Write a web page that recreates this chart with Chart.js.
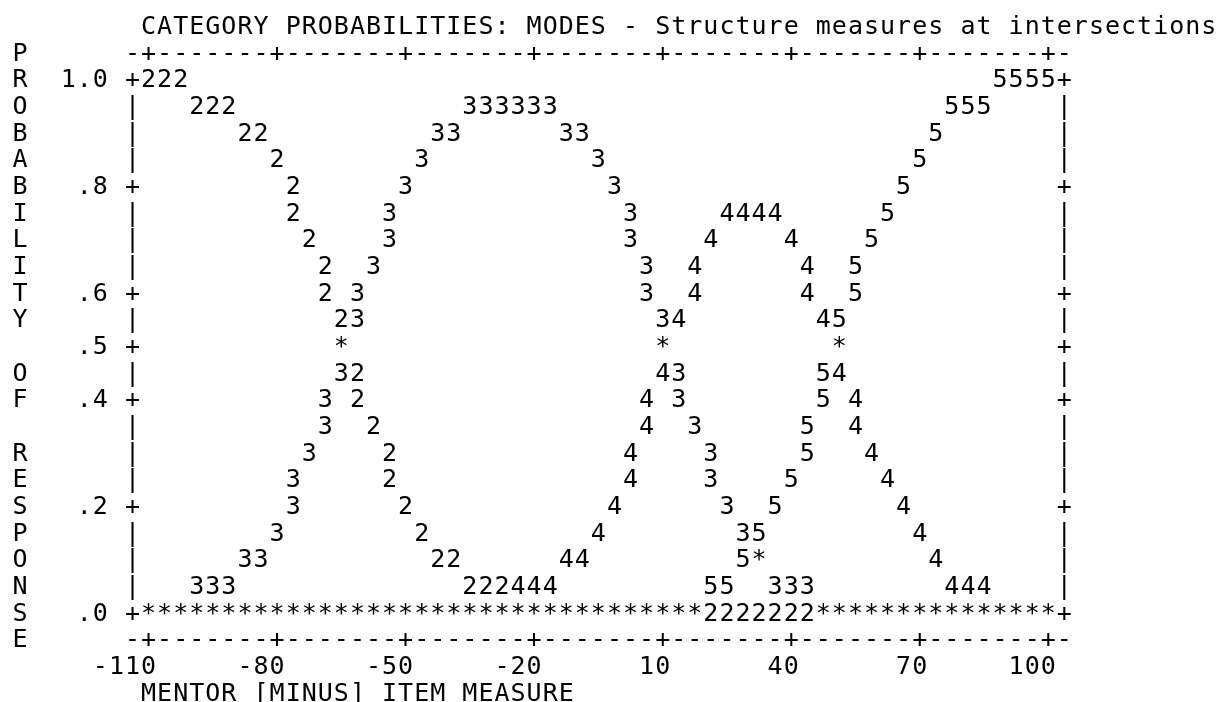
<!DOCTYPE html>
<html>
<head>
<meta charset="utf-8">
<title>Category probabilities: modes</title>
<script src="https://cdn.jsdelivr.net/npm/chart.js@4.4.1/dist/chart.umd.min.js"></script>
<style>
  html, body { margin: 0; padding: 0; background: #fff; }
  canvas { display: block; }
</style>
</head>
<body>
<canvas id="plot" width="1218" height="702"></canvas>
<script>
// ---- text ----
const chartTitle = 'CATEGORY PROBABILITIES: MODES - Structure measures at intersections';
const xAxisTitle = 'MENTOR [MINUS] ITEM MEASURE';
const yAxisTitle = 'PROBABILITY OF RESPONSE';

// ---- axes ----
const measureTicks = [-110, -80, -50, -20, 10, 40, 70, 100];
const probTicks = [1.0, 0.8, 0.6, 0.5, 0.4, 0.2, 0.0];
const probTickLabels = ['1.0', '.8', '.6', '.5', '.4', '.2', '.0'];

// ---- plotted cells per response category: [measure, probability] ----
const category2 = [
  [-110, 1.00], [-106.25, 1.00], [-102.5, 1.00],
  [-98.75, 0.95], [-95, 0.95], [-91.25, 0.95],
  [-87.5, 0.90], [-83.75, 0.90],
  [-80, 0.85], [-76.25, 0.80], [-76.25, 0.75], [-72.5, 0.70],
  [-68.75, 0.65], [-68.75, 0.60], [-65, 0.55],
  [-61.25, 0.45], [-61.25, 0.40], [-57.5, 0.35], [-53.75, 0.30],
  [-53.75, 0.25], [-50, 0.20], [-46.25, 0.15],
  [-42.5, 0.10], [-38.75, 0.10],
  [-35, 0.05], [-31.25, 0.05], [-27.5, 0.05],
  [21.25, 0.00], [25, 0.00], [28.75, 0.00], [32.5, 0.00],
  [36.25, 0.00], [40, 0.00], [43.75, 0.00]
];

const category3 = [
  [-35, 0.95], [-31.25, 0.95], [-27.5, 0.95], [-23.75, 0.95], [-20, 0.95], [-16.25, 0.95],
  [-42.5, 0.90], [-38.75, 0.90], [-12.5, 0.90], [-8.75, 0.90],
  [-46.25, 0.85], [-5, 0.85],
  [-50, 0.80], [-1.25, 0.80],
  [-53.75, 0.75], [2.5, 0.75],
  [-53.75, 0.70], [2.5, 0.70],
  [-57.5, 0.65], [6.25, 0.65],
  [-61.25, 0.60], [6.25, 0.60],
  [-61.25, 0.55], [10, 0.55],
  [-65, 0.45], [13.75, 0.45],
  [-68.75, 0.40], [13.75, 0.40],
  [-68.75, 0.35], [17.5, 0.35],
  [-72.5, 0.30], [21.25, 0.30],
  [-76.25, 0.25], [21.25, 0.25],
  [-76.25, 0.20], [25, 0.20],
  [-80, 0.15], [28.75, 0.15],
  [-87.5, 0.10], [-83.75, 0.10],
  [-98.75, 0.05], [-95, 0.05], [-91.25, 0.05],
  [36.25, 0.05], [40, 0.05], [43.75, 0.05]
];

const category4 = [
  [25, 0.75], [28.75, 0.75], [32.5, 0.75], [36.25, 0.75],
  [21.25, 0.70], [40, 0.70],
  [17.5, 0.65], [43.75, 0.65],
  [17.5, 0.60], [43.75, 0.60],
  [13.75, 0.55], [47.5, 0.55],
  [10, 0.45], [51.25, 0.45],
  [6.25, 0.40], [55, 0.40],
  [6.25, 0.35], [55, 0.35],
  [2.5, 0.30], [58.75, 0.30],
  [2.5, 0.25], [62.5, 0.25],
  [-1.25, 0.20], [66.25, 0.20],
  [-5, 0.15], [70, 0.15],
  [-12.5, 0.10], [-8.75, 0.10], [73.75, 0.10],
  [-23.75, 0.05], [-20, 0.05], [-16.25, 0.05],
  [77.5, 0.05], [81.25, 0.05], [85, 0.05]
];

const category5 = [
  [88.75, 1.00], [92.5, 1.00], [96.25, 1.00], [100, 1.00],
  [77.5, 0.95], [81.25, 0.95], [85, 0.95],
  [73.75, 0.90], [70, 0.85], [66.25, 0.80], [62.5, 0.75],
  [58.75, 0.70], [55, 0.65], [55, 0.60], [51.25, 0.55],
  [47.5, 0.45], [47.5, 0.40], [43.75, 0.35], [43.75, 0.30],
  [40, 0.25], [36.25, 0.20], [32.5, 0.15], [28.75, 0.10],
  [21.25, 0.05], [25, 0.05]
];

// cells shared by two or more curves
const coincident = [
  [-65, 0.50], [10, 0.50], [51.25, 0.50],
  [32.5, 0.10],
  [-110, 0], [-106.25, 0], [-102.5, 0], [-98.75, 0], [-95, 0], [-91.25, 0],
  [-87.5, 0], [-83.75, 0], [-80, 0], [-76.25, 0], [-72.5, 0], [-68.75, 0],
  [-65, 0], [-61.25, 0], [-57.5, 0], [-53.75, 0], [-50, 0], [-46.25, 0],
  [-42.5, 0], [-38.75, 0], [-35, 0], [-31.25, 0], [-27.5, 0], [-23.75, 0],
  [-20, 0], [-16.25, 0], [-12.5, 0], [-8.75, 0], [-5, 0], [-1.25, 0],
  [2.5, 0], [6.25, 0], [10, 0], [13.75, 0], [17.5, 0],
  [47.5, 0], [51.25, 0], [55, 0], [58.75, 0], [62.5, 0], [66.25, 0],
  [70, 0], [73.75, 0], [77.5, 0], [81.25, 0], [85, 0], [88.75, 0],
  [92.5, 0], [96.25, 0], [100, 0]
];

// character grid: one column per 3.75 measure units, one row per .05 probability
const colStep = 3.75;
const rowStep = 0.05;

const toPoints = list => list.map(([m, p]) => ({ x: m, y: p }));

const series = [
  { glyph: '2', cells: category2 },
  { glyph: '3', cells: category3 },
  { glyph: '4', cells: category4 },
  { glyph: '5', cells: category5 },
  { glyph: '*', cells: coincident }
];

// Draws the plot as a character chart: every mark is a glyph placed on the scales.
const characterPlot = {
  id: 'characterPlot',
  afterDatasetsDraw(chart) {
    const { ctx, scales: { x, y } } = chart;
    const colW = x.getPixelForValue(colStep) - x.getPixelForValue(0);
    const rowH = y.getPixelForValue(0) - y.getPixelForValue(rowStep);
    const lift = 9.1;

    ctx.save();
    ctx.font = '25px "DejaVu Sans Mono", monospace';
    ctx.fillStyle = '#000';
    ctx.textAlign = 'center';
    ctx.textBaseline = 'alphabetic';

    const put = (ch, px, py) => ctx.fillText(ch, px, py + lift);
    const putText = (str, px0, py) => {
      for (let i = 0; i < str.length; i++) {
        if (str[i] !== ' ') put(str[i], px0 + i * colW, py);
      }
    };
    const onTick = (v, ticks) => ticks.some(t => Math.abs(t - v) < 1e-6);

    const xL = x.getPixelForValue(x.min);
    const xR = x.getPixelForValue(x.max);
    const yTop = y.getPixelForValue(1);
    const yBot = y.getPixelForValue(0);

    // left and right frame
    const nRows = Math.round(1 / rowStep);
    for (let i = 0; i <= nRows; i++) {
      const p = 1 - i * rowStep;
      const ch = onTick(p, probTicks) ? '+' : '|';
      const py = y.getPixelForValue(p);
      put(ch, xL, py);
      put(ch, xR, py);
    }

    // top and bottom rulers
    const nCols = Math.round((x.max - x.min) / colStep);
    for (let k = 0; k <= nCols; k++) {
      const m = x.min + k * colStep;
      const ch = onTick(m, measureTicks) ? '+' : '-';
      const px = x.getPixelForValue(m);
      put(ch, px, yTop - rowH);
      put(ch, px, yBot + rowH);
    }

    // probability labels, right-aligned two columns left of the frame
    probTicks.forEach((p, i) => {
      const s = probTickLabels[i];
      putText(s, xL - (s.length + 1) * colW, y.getPixelForValue(p));
    });

    // measure labels, right-aligned on their tick column
    measureTicks.forEach(m => {
      const s = String(m);
      putText(s, x.getPixelForValue(m) - (s.length - 1) * colW, yBot + 2 * rowH);
    });

    // titles
    putText(chartTitle, x.getPixelForValue(measureTicks[0]), yTop - 2 * rowH);
    putText(xAxisTitle, x.getPixelForValue(measureTicks[0]), yBot + 3 * rowH);
    for (let i = 0; i < yAxisTitle.length; i++) {
      if (yAxisTitle[i] !== ' ') put(yAxisTitle[i], xL - 7 * colW, yTop + (i - 1) * rowH);
    }

    // curve glyphs
    chart.data.datasets.forEach((ds, di) => {
      chart.getDatasetMeta(di).data.forEach(el => put(ds.glyph, el.x, el.y));
    });

    ctx.restore();
  }
};

new Chart(document.getElementById('plot'), {
  type: 'scatter',
  data: {
    datasets: series.map(s => ({
      label: s.glyph,
      glyph: s.glyph,
      data: toPoints(s.cells),
      showLine: false,
      pointRadius: 0,
      pointHoverRadius: 0
    }))
  },
  options: {
    responsive: false,
    animation: false,
    events: [],
    layout: { padding: { left: 132.5, right: 153.7, top: 78.3, bottom: 90.3 } },
    scales: {
      x: { type: 'linear', display: false, min: measureTicks[0] - colStep, max: measureTicks[measureTicks.length - 1] + colStep },
      y: { type: 'linear', display: false, min: 0, max: 1 }
    },
    plugins: {
      legend: { display: false },
      title: { display: false },
      tooltip: { enabled: false }
    }
  },
  plugins: [characterPlot]
});
</script>
</body>
</html>
